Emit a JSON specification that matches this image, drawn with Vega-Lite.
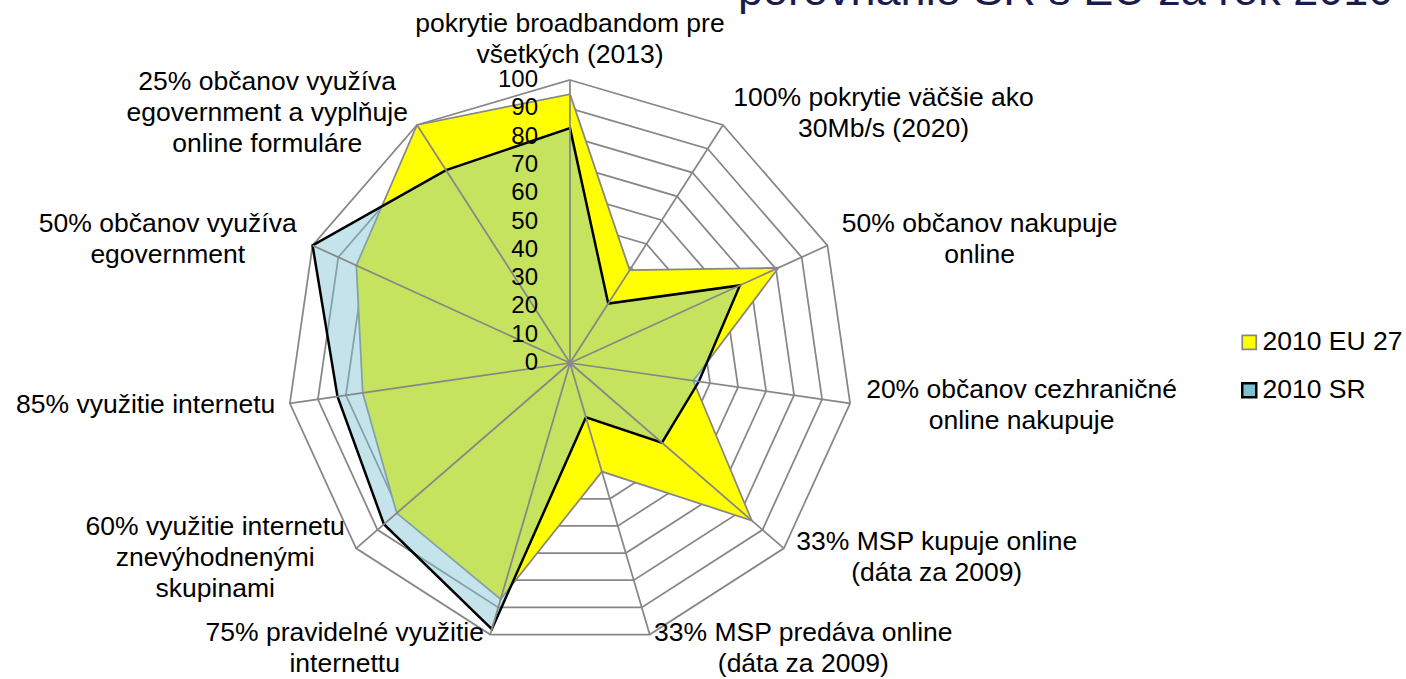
{
  "$schema": "https://vega.github.io/schema/vega-lite/v6.json",
  "width": 1406,
  "height": 679,
  "autosize": {"type": "none"},
  "padding": 0,
  "background": "white",
  "config": {
    "view": {"stroke": null},
    "font": "Liberation Sans",
    "legend": {
      "orient": "none",
      "legendX": 1236,
      "legendY": 329,
      "padding": 0,
      "title": null,
      "symbolType": "square",
      "symbolSize": 196,
      "symbolStrokeWidth": 2,
      "symbolOffset": 0,
      "labelFontSize": 26.5,
      "labelFont": "Liberation Sans",
      "labelColor": "#000000",
      "labelOffset": 0,
      "rowPadding": 21
    }
  },
  "datasets": {
    "axes": [
      {"idx": 0, "label": "pokrytie broadbandom pre\nvšetkých (2013)", "eu": 95, "sr": 83},
      {"idx": 1, "label": "100% pokrytie väčšie ako\n30Mb/s (2020)", "eu": 39, "sr": 25},
      {"idx": 2, "label": "50% občanov nakupuje\nonline", "eu": 81, "sr": 66},
      {"idx": 3, "label": "20% občanov cezhraničné\nonline nakupuje", "eu": 44, "sr": 46},
      {"idx": 4, "label": "33% MSP kupuje online\n(dáta za  2009)", "eu": 85, "sr": 43},
      {"idx": 5, "label": "33% MSP predáva online\n(dáta za 2009)", "eu": 40, "sr": 20},
      {"idx": 6, "label": "75% pravidelné využitie\ninternettu", "eu": 87, "sr": 98},
      {"idx": 7, "label": "60% využitie internetu\nznevýhodnenými\nskupinami", "eu": 81, "sr": 87},
      {"idx": 8, "label": "85% využitie internetu", "eu": 74, "sr": 83},
      {"idx": 9, "label": "50% občanov využíva\negovernment", "eu": 83, "sr": 100},
      {"idx": 10, "label": "25% občanov využíva\negovernment a vyplňuje\nonline formuláre", "eu": 100, "sr": 81}
    ],
    "rings": [
      {"level": 10, "idx": [0,1,2,3,4,5,6,7,8,9,10]},
      {"level": 20, "idx": [0,1,2,3,4,5,6,7,8,9,10]},
      {"level": 30, "idx": [0,1,2,3,4,5,6,7,8,9,10]},
      {"level": 40, "idx": [0,1,2,3,4,5,6,7,8,9,10]},
      {"level": 50, "idx": [0,1,2,3,4,5,6,7,8,9,10]},
      {"level": 60, "idx": [0,1,2,3,4,5,6,7,8,9,10]},
      {"level": 70, "idx": [0,1,2,3,4,5,6,7,8,9,10]},
      {"level": 80, "idx": [0,1,2,3,4,5,6,7,8,9,10]},
      {"level": 90, "idx": [0,1,2,3,4,5,6,7,8,9,10]},
      {"level": 100, "idx": [0,1,2,3,4,5,6,7,8,9,10]}
    ],
    "ticks": [
      {"t": 0}, {"t": 10}, {"t": 20}, {"t": 30}, {"t": 40}, {"t": 50},
      {"t": 60}, {"t": 70}, {"t": 80}, {"t": 90}, {"t": 100}
    ],
    "heading": [
      {"title": "porovnanie SR s EÚ za rok 2010"}
    ]
  },
  "layer": [
    {
      "data": {"name": "rings"},
      "transform": [
        {"flatten": ["idx"]},
        {"calculate": "datum.idx * 2 * PI / 11", "as": "a"},
        {"calculate": "datum.level * sin(datum.a)", "as": "px"},
        {"calculate": "datum.level * cos(datum.a)", "as": "py"}
      ],
      "mark": {"type": "line", "interpolate": "linear-closed", "stroke": "#878787", "strokeWidth": 1.75},
      "encoding": {
        "x": {"field": "px", "type": "quantitative", "scale": {"domain": [-201.41, 295.41], "nice": false, "zero": false}, "axis": null},
        "y": {"field": "py", "type": "quantitative", "scale": {"domain": [-111.66, 128.27], "nice": false, "zero": false}, "axis": null},
        "detail": {"field": "level", "type": "nominal"},
        "order": {"field": "idx", "type": "quantitative"}
      }
    },
    {
      "data": {"name": "axes"},
      "transform": [
        {"fold": ["eu", "sr"], "as": ["series", "value"]},
        {"filter": "datum.series === 'eu'"},
        {"calculate": "datum.idx * 2 * PI / 11", "as": "a"},
        {"calculate": "datum.value * sin(datum.a)", "as": "px"},
        {"calculate": "datum.value * cos(datum.a)", "as": "py"}
      ],
      "mark": {"type": "line", "interpolate": "linear-closed"},
      "encoding": {
        "x": {"field": "px", "type": "quantitative", "scale": {"domain": [-201.41, 295.41], "nice": false, "zero": false}, "axis": null},
        "y": {"field": "py", "type": "quantitative", "scale": {"domain": [-111.66, 128.27], "nice": false, "zero": false}, "axis": null},
        "order": {"field": "idx", "type": "quantitative"},
        "fill": {"field": "series", "type": "nominal", "scale": {"domain": ["eu", "sr"], "range": ["#ffff00", "#7fc0d0"]}, "legend": {"labelExpr": "datum.label === 'eu' ? '2010 EU 27' : '2010 SR'"}},
        "stroke": {"field": "series", "type": "nominal", "scale": {"domain": ["eu", "sr"], "range": ["#878787", "#000000"]}},
        "fillOpacity": {"field": "series", "type": "nominal", "scale": {"domain": ["eu", "sr"], "range": [1, 0.45]}},
        "strokeWidth": {"field": "series", "type": "nominal", "scale": {"domain": ["eu", "sr"], "range": [1.75, 2.5]}}
      }
    },
    {
      "data": {"name": "axes"},
      "transform": [
        {"fold": ["eu", "sr"], "as": ["series", "value"]},
        {"filter": "datum.series === 'sr'"},
        {"calculate": "datum.idx * 2 * PI / 11", "as": "a"},
        {"calculate": "datum.value * sin(datum.a)", "as": "px"},
        {"calculate": "datum.value * cos(datum.a)", "as": "py"}
      ],
      "mark": {"type": "line", "interpolate": "linear-closed"},
      "encoding": {
        "x": {"field": "px", "type": "quantitative", "scale": {"domain": [-201.41, 295.41], "nice": false, "zero": false}, "axis": null},
        "y": {"field": "py", "type": "quantitative", "scale": {"domain": [-111.66, 128.27], "nice": false, "zero": false}, "axis": null},
        "order": {"field": "idx", "type": "quantitative"},
        "fill": {"field": "series", "type": "nominal", "scale": {"domain": ["eu", "sr"], "range": ["#ffff00", "#7fc0d0"]}, "legend": {"labelExpr": "datum.label === 'eu' ? '2010 EU 27' : '2010 SR'"}},
        "stroke": {"field": "series", "type": "nominal", "scale": {"domain": ["eu", "sr"], "range": ["#878787", "#000000"]}},
        "fillOpacity": {"field": "series", "type": "nominal", "scale": {"domain": ["eu", "sr"], "range": [1, 0.45]}},
        "strokeWidth": {"field": "series", "type": "nominal", "scale": {"domain": ["eu", "sr"], "range": [1.75, 2.5]}}
      }
    },
    {
      "data": {"name": "axes"},
      "transform": [
        {"calculate": "datum.idx * 2 * PI / 11", "as": "a"},
        {"calculate": "100 * sin(datum.a)", "as": "sx"},
        {"calculate": "100 * cos(datum.a)", "as": "sy"}
      ],
      "mark": {"type": "rule", "stroke": "#878787", "strokeWidth": 1.75},
      "encoding": {
        "x": {"field": "sx", "type": "quantitative", "scale": {"domain": [-201.41, 295.41], "nice": false, "zero": false}, "axis": null},
        "y": {"field": "sy", "type": "quantitative", "scale": {"domain": [-111.66, 128.27], "nice": false, "zero": false}, "axis": null},
        "x2": {"datum": 0},
        "y2": {"datum": 0}
      }
    },
    {
      "data": {"name": "ticks"},
      "mark": {"type": "text", "align": "right", "baseline": "middle", "dx": -32, "fontSize": 24, "font": "Liberation Sans", "fill": "#000000"},
      "encoding": {
        "x": {"datum": 0, "type": "quantitative", "scale": {"domain": [-201.41, 295.41], "nice": false, "zero": false}, "axis": null},
        "y": {"field": "t", "type": "quantitative", "scale": {"domain": [-111.66, 128.27], "nice": false, "zero": false}, "axis": null},
        "text": {"field": "t", "type": "nominal"}
      }
    },
    {
      "data": {"name": "axes"},
      "transform": [
        {"calculate": "datum.idx * 2 * PI / 11", "as": "a"},
        {"calculate": "sin(datum.a)", "as": "s"},
        {"calculate": "cos(datum.a)", "as": "c"},
        {"calculate": "split(datum.label, '\\n')", "as": "lines"},
        {"calculate": "length(datum.lines)", "as": "nl"},
        {"calculate": "datum.lines[0] || ''", "as": "l0"},
        {"calculate": "datum.lines[1] || ''", "as": "l1"},
        {"calculate": "datum.lines[2] || ''", "as": "l2"},
        {"calculate": "0.556 * length(datum.l0) - 0.3 * length(replace(datum.l0, /[^ iljtfrí()]/g, '')) + 0.3 * length(replace(datum.l0, /[^%mwMW]/g, '')) + 0.13 * length(replace(datum.l0, /[^A-LN-VX-ZÚ]/g, ''))", "as": "w0"},
        {"calculate": "0.556 * length(datum.l1) - 0.3 * length(replace(datum.l1, /[^ iljtfrí()]/g, '')) + 0.3 * length(replace(datum.l1, /[^%mwMW]/g, '')) + 0.13 * length(replace(datum.l1, /[^A-LN-VX-ZÚ]/g, ''))", "as": "w1"},
        {"calculate": "0.556 * length(datum.l2) - 0.3 * length(replace(datum.l2, /[^ iljtfrí()]/g, '')) + 0.3 * length(replace(datum.l2, /[^%mwMW]/g, '')) + 0.13 * length(replace(datum.l2, /[^A-LN-VX-ZÚ]/g, ''))", "as": "w2"},
        {"calculate": "max(datum.w0, datum.w1, datum.w2) * 4.68", "as": "hw"},
        {"calculate": "105 * datum.s + (abs(datum.s) < 0.2 ? 0 : (datum.s > 0 ? 1 : -1) * datum.hw)", "as": "lx"},
        {"calculate": "105 * datum.c + (datum.nl - 1) * 5.48 + (abs(datum.s) < 0.2 ? datum.nl * 4.65 : 0)", "as": "ly"}
      ],
      "mark": {"type": "text", "align": "center", "baseline": "middle", "lineBreak": "\n", "fontSize": 26.5, "lineHeight": 31, "font": "Liberation Sans", "fill": "#000000"},
      "encoding": {
        "x": {"field": "lx", "type": "quantitative", "scale": {"domain": [-201.41, 295.41], "nice": false, "zero": false}, "axis": null},
        "y": {"field": "ly", "type": "quantitative", "scale": {"domain": [-111.66, 128.27], "nice": false, "zero": false}, "axis": null},
        "text": {"field": "label", "type": "nominal"}
      }
    },
    {
      "data": {"name": "heading"},
      "mark": {"type": "text", "align": "left", "baseline": "alphabetic", "fontSize": 45, "font": "Liberation Sans", "fill": "#1b1b4f"},
      "encoding": {
        "x": {"datum": 59.36, "type": "quantitative", "scale": {"domain": [-201.41, 295.41], "nice": false, "zero": false}, "axis": null},
        "y": {"datum": 126.5, "type": "quantitative", "scale": {"domain": [-111.66, 128.27], "nice": false, "zero": false}, "axis": null},
        "text": {"field": "title", "type": "nominal"}
      }
    }
  ]
}
